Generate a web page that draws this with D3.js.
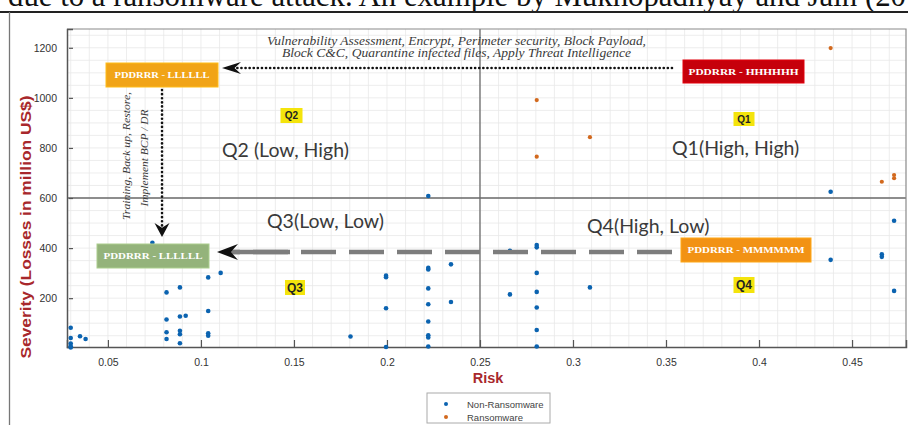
<!DOCTYPE html>
<html>
<head>
<meta charset="utf-8">
<script src="https://cdn.jsdelivr.net/npm/d3@7"></script>
<style>
  body { margin: 0; background: #fff; overflow: hidden; }
  svg { display: block; }
</style>
</head>
<body>
<div id="chart"></div>
<script>
// values
var nonRansomRisk = [0.030, 0.030, 0.030, 0.030, 0.030, 0.035, 0.038,
  0.0815, 0.0815, 0.0815, 0.0815, 0.0887, 0.0887, 0.0887, 0.0887, 0.0887, 0.0918,
  0.1039, 0.1039, 0.1039, 0.1039, 0.1106, 0.0739, 0.1804,
  0.1995, 0.1995, 0.1995, 0.1995,
  0.2222, 0.2222, 0.2222, 0.2222, 0.2222, 0.2222, 0.2222, 0.2222, 0.2222,
  0.2344, 0.2344, 0.2661, 0.2661,
  0.2805, 0.2805, 0.2805, 0.2805, 0.2805, 0.2805, 0.2805,
  0.3091, 0.4385, 0.4385, 0.466, 0.466, 0.4726, 0.4726];
var nonRansomSeverity = [82, 41, 19, 8, 3, 48, 37,
  223, 115, 64, 37, 243, 127, 70, 56, 20, 130,
  283, 149, 60, 50, 301, 421, 47,
  290, 284, 160, 5,
  608, 321, 315, 239, 176, 107, 52, 43, 7,
  335, 185, 389, 215,
  412, 403, 301, 225, 163, 73, 7,
  243, 625, 353, 375, 365, 509, 229];
var ransomRisk = [0.2805, 0.2805, 0.3091, 0.4385, 0.466, 0.4726, 0.4726];
var ransomSeverity = [991, 765, 843, 1199, 665, 692, 679];

var xTicks = [0.05, 0.1, 0.15, 0.2, 0.25, 0.3, 0.35, 0.4, 0.45];
var yTicks = [200, 400, 600, 800, 1000, 1200];
var riskSplit = 0.25, severitySplit = 600;
var seriesNames = ["Non-Ransomware", "Ransomware"];
var seriesColors = ["#0b63b0", "#d2691e"];

var W = 908, H = 425;
var margin = {top: 29, right: 2, bottom: 78, left: 67};
var width = W - margin.left - margin.right,
    height = H - margin.top - margin.bottom;

var svg = d3.select("#chart").append("svg")
  .attr("width", W)
  .attr("height", H);

// page fragment above the figure
svg.append("text")
  .attr("x", 8)
  .attr("y", 6)
  .style("font-family", "'Liberation Serif', 'DejaVu Serif', serif")
  .style("font-size", "30.8px")
  .style("fill", "#111")
  .text("due to a ransomware attack. An example by Mukhopadhyay and Jain (2019).");
svg.append("line")
  .attr("x1", 0).attr("x2", W).attr("y1", 12).attr("y2", 12)
  .attr("stroke", "#222").attr("stroke-width", 2);
svg.append("line")
  .attr("x1", 9.5).attr("x2", 9.5).attr("y1", 12).attr("y2", H)
  .attr("stroke", "#777").attr("stroke-width", 1.3);

var g = svg.append("g")
  .attr("transform", "translate(" + margin.left + "," + margin.top + ")");

var x = d3.scaleLinear().domain([0.028, 0.479]).range([0, width]);
var y = d3.scaleLinear().domain([5, 1275]).range([height, 0]);

// fine grid
g.append("g").selectAll("line")
  .data(d3.range(0.03, 0.4785, 0.01))
  .enter().append("line")
  .attr("x1", function(d) { return x(d); })
  .attr("x2", function(d) { return x(d); })
  .attr("y1", 0).attr("y2", height)
  .attr("stroke", "#e9e9e9").attr("stroke-width", 0.8);
g.append("g").selectAll("line")
  .data(d3.range(50, 1275, 50))
  .enter().append("line")
  .attr("x1", 0).attr("x2", width)
  .attr("y1", function(d) { return y(d); })
  .attr("y2", function(d) { return y(d); })
  .attr("stroke", "#e9e9e9").attr("stroke-width", 0.8);

// quadrant split lines
g.append("line")
  .attr("x1", x(riskSplit)).attr("x2", x(riskSplit))
  .attr("y1", 0).attr("y2", height)
  .attr("stroke", "#6a6a6a").attr("stroke-width", 1.3);
g.append("line")
  .attr("x1", 0).attr("x2", width)
  .attr("y1", y(severitySplit)).attr("y2", y(severitySplit))
  .attr("stroke", "#6a6a6a").attr("stroke-width", 1.3);

// box
g.append("path")
  .attr("d", "M0,0H" + width + "V" + height)
  .attr("fill", "none").attr("stroke", "#8a8a8a").attr("stroke-width", 1.2);

// axes (inward ticks)
var xAxis = g.append("g")
  .attr("transform", "translate(0," + height + ")")
  .call(d3.axisBottom(x).tickValues(xTicks).tickSize(-7).tickPadding(12)
    .tickFormat(function(d) { return String(+d.toFixed(2)); }));
var yAxis = g.append("g")
  .call(d3.axisLeft(y).tickValues(yTicks).tickSize(-6).tickPadding(10)
    .tickFormat(d3.format("d")));
[xAxis, yAxis].forEach(function(a) {
  a.select(".domain").attr("stroke", "#555").attr("stroke-width", 1.5);
  a.selectAll(".tick line").attr("stroke", "#555").attr("stroke-width", 1.2);
  a.selectAll(".tick text")
    .style("font-family", "'Liberation Sans', Arial, sans-serif")
    .style("font-size", "10.5px")
    .style("fill", "#333");
});
yAxis.selectAll(".tick line").attr("x1", 2);

// axis titles
svg.append("text")
  .attr("transform", "translate(31,227) rotate(-90)")
  .attr("text-anchor", "middle")
  .attr("textLength", 263).attr("lengthAdjust", "spacingAndGlyphs")
  .style("font-family", "'Liberation Sans', Arial, sans-serif")
  .style("font-size", "15.5px")
  .style("font-weight", "bold")
  .style("fill", "#a8282c")
  .text("Severity (Losses in million US$)");
svg.append("text")
  .attr("x", 488).attr("y", 383)
  .attr("text-anchor", "middle")
  .style("font-family", "'Liberation Sans', Arial, sans-serif")
  .style("font-size", "14.5px")
  .style("font-weight", "bold")
  .style("fill", "#a8282c")
  .text("Risk");

// ---- overlay annotations (page pixel coordinates) ----
var ann = svg.append("g");

function stealth(tx, ty, angle, len, half) {
  ann.append("path")
    .attr("d", "M0,0L" + len + "," + (-half) + "L" + (len * 0.66) + ",0L" + len + "," + half + "Z")
    .attr("transform", "translate(" + tx + "," + ty + ") rotate(" + angle + ")")
    .attr("fill", "#111");
}

// dashed gray arrow Q4 -> Q3
ann.append("line")
  .attr("x1", 672).attr("x2", 232).attr("y1", 252).attr("y2", 252)
  .attr("stroke", "#7d7d7d").attr("stroke-width", 4.5)
  .attr("stroke-dasharray", "35,13");
ann.append("line")
  .attr("x1", 228).attr("x2", 290).attr("y1", 252).attr("y2", 252)
  .attr("stroke", "#7d7d7d").attr("stroke-width", 4.5);
stealth(217, 252, 0, 21, 8);

// data points
var pts = g.append("g");
pts.selectAll(".nr")
  .data(d3.range(nonRansomRisk.length))
  .enter().append("circle")
  .attr("class", "nr")
  .attr("cx", function(i) { return x(nonRansomRisk[i]); })
  .attr("cy", function(i) { return y(nonRansomSeverity[i]); })
  .attr("r", 2.3)
  .attr("fill", seriesColors[0]);
pts.selectAll(".r")
  .data(d3.range(ransomRisk.length))
  .enter().append("circle")
  .attr("class", "r")
  .attr("cx", function(i) { return x(ransomRisk[i]); })
  .attr("cy", function(i) { return y(ransomSeverity[i]); })
  .attr("r", 2.1)
  .attr("fill", seriesColors[1]);

// dotted black arrows
ann.append("line")
  .attr("x1", 672).attr("x2", 236).attr("y1", 68).attr("y2", 68)
  .attr("stroke", "#111").attr("stroke-width", 2.6)
  .attr("stroke-linecap", "round").attr("stroke-dasharray", "0.1,4");
stealth(222, 68, 0, 19, 6);
ann.append("line")
  .attr("x1", 162).attr("x2", 162).attr("y1", 90).attr("y2", 226)
  .attr("stroke", "#111").attr("stroke-width", 2.6)
  .attr("stroke-linecap", "round").attr("stroke-dasharray", "0.1,4");
stealth(162, 237, -90, 14, 7.5);

// italic notes
var serifItalic = function(sel) {
  return sel.style("font-family", "'Liberation Serif', 'DejaVu Serif', serif")
    .style("font-style", "italic")
    .style("fill", "#3a3a3a");
};
serifItalic(ann.append("text")
  .attr("x", 267).attr("y", 45)
  .attr("textLength", 379).attr("lengthAdjust", "spacingAndGlyphs")
  .style("font-size", "11.5px")
  .text("Vulnerability Assessment, Encrypt, Perimeter security, Block Payload,"));
serifItalic(ann.append("text")
  .attr("x", 282).attr("y", 57)
  .attr("textLength", 349).attr("lengthAdjust", "spacingAndGlyphs")
  .style("font-size", "11.5px")
  .text("Block C&C, Quarantine infected files, Apply Threat Intelligence"));
serifItalic(ann.append("text")
  .attr("transform", "translate(130,156) rotate(-90)")
  .attr("text-anchor", "middle")
  .attr("textLength", 128).attr("lengthAdjust", "spacingAndGlyphs")
  .style("font-size", "10.5px")
  .text("Training, Back up, Restore,"));
serifItalic(ann.append("text")
  .attr("transform", "translate(148,158) rotate(-90)")
  .attr("text-anchor", "middle")
  .attr("textLength", 97).attr("lengthAdjust", "spacingAndGlyphs")
  .style("font-size", "10.5px")
  .text("Implement BCP / DR"));

// level boxes
function levelBox(x0, y0, w, h, fill, label, tl) {
  ann.append("rect")
    .attr("x", x0).attr("y", y0).attr("width", w).attr("height", h)
    .attr("fill", fill)
    .attr("stroke", d3.color(fill).brighter(0.4)).attr("stroke-width", 1);
  ann.append("text")
    .attr("x", x0 + w / 2).attr("y", y0 + h / 2 + 3.2)
    .attr("text-anchor", "middle")
    .attr("textLength", tl).attr("lengthAdjust", "spacingAndGlyphs")
    .style("font-family", "'Liberation Serif', 'DejaVu Serif', serif")
    .style("font-weight", "bold")
    .style("font-size", "9px")
    .style("fill", "#fff")
    .text(label);
}
levelBox(106, 63, 112, 24, "#f1a417", "PDDRRR - LLLLLL", 95);
levelBox(683, 60, 121, 23, "#c6000b", "PDDRRR - HHHHHH", 110);
levelBox(97, 244, 112, 24, "#94b37b", "PDDRRR - LLLLLL", 99);
levelBox(681, 238, 130, 24, "#f29214", "PDDRRR - MMMMMM", 117);

// quadrant tags
function tag(cx, cy, w, h, label, fs) {
  ann.append("rect")
    .attr("x", cx - w / 2).attr("y", cy - h / 2).attr("width", w).attr("height", h)
    .attr("fill", "#f4e40c");
  ann.append("text")
    .attr("x", cx).attr("y", cy + fs * 0.36)
    .attr("text-anchor", "middle")
    .style("font-family", "'Liberation Sans', Arial, sans-serif")
    .style("font-weight", "bold")
    .style("font-size", fs + "px")
    .style("fill", "#222")
    .text(label);
}
tag(291.5, 115.5, 22, 15, "Q2", 10);
tag(744, 119, 21, 14, "Q1", 10);
tag(295, 287.5, 20, 15, "Q3", 12);
tag(744, 285, 21, 16, "Q4", 12);

// quadrant descriptions
var quadText = [
  {t: "Q2 (Low, High)", x: 222, y: 157},
  {t: "Q1(High, High)", x: 672, y: 155},
  {t: "Q3(Low, Low)", x: 267, y: 228},
  {t: "Q4(High, Low)", x: 587, y: 233}
];
ann.selectAll(".qt")
  .data(quadText)
  .enter().append("text")
  .attr("class", "qt")
  .attr("x", function(d) { return d.x; })
  .attr("y", function(d) { return d.y; })
  .style("font-family", "Lato, 'Open Sans', sans-serif")
  .style("font-size", "19.5px")
  .style("fill", "#3a3a3a")
  .text(function(d) { return d.t; });

// legend
var lg = svg.append("g").attr("transform", "translate(427,393)");
lg.append("rect")
  .attr("width", 123).attr("height", 30)
  .attr("fill", "#fff").attr("stroke", "#aaa").attr("stroke-width", 1);
lg.selectAll("circle")
  .data(seriesNames)
  .enter().append("circle")
  .attr("cx", 19)
  .attr("cy", function(d, i) { return 11 + i * 13; })
  .attr("r", 2)
  .attr("fill", function(d, i) { return seriesColors[i]; });
lg.selectAll("text")
  .data(seriesNames)
  .enter().append("text")
  .attr("x", 40)
  .attr("y", function(d, i) { return 14.5 + i * 13; })
  .style("font-family", "'Liberation Sans', Arial, sans-serif")
  .style("font-size", "9.5px")
  .style("fill", "#444")
  .text(function(d) { return d; });
</script>
</body>
</html>
